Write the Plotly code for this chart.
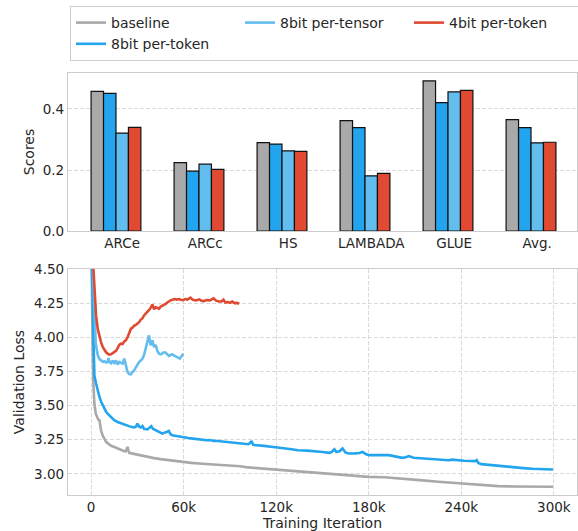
import plotly.graph_objects as go

# ---------------- data ----------------
categories = ["ARCe", "ARCc", "HS", "LAMBADA", "GLUE", "Avg."]
series_names = ["baseline", "8bit per-token", "8bit per-tensor", "4bit per-token"]
scores_baseline = [0.458, 0.224, 0.290, 0.362, 0.492, 0.365]
scores_8bit_token = [0.451, 0.196, 0.285, 0.339, 0.421, 0.339]
scores_8bit_tensor = [0.321, 0.219, 0.263, 0.181, 0.456, 0.289]
scores_4bit_token = [0.340, 0.202, 0.261, 0.189, 0.461, 0.291]

# validation loss curves: iteration (thousands), loss
baseline_iter = [0.3, 0.6, 1.0, 1.5, 2.1, 3.0, 3.9, 4.6, 5.4, 5.9, 6.4, 7.5, 8.6, 9.7, 11.8, 13.0,
                 15.0, 17.2, 19.3, 21.5, 22.5, 23.6, 24.2, 24.7, 27, 30, 33, 36.5, 40, 45, 50, 58,
                 65, 72, 79.4, 86, 92, 96.6, 102, 110, 120, 130, 140, 150, 160, 170, 180, 190,
                 199.6, 206, 215, 225, 238, 250, 264, 275, 285, 299.4]
baseline_loss = [4.6, 4.2, 3.9, 3.65, 3.515, 3.44, 3.405, 3.397, 3.393, 3.36, 3.319, 3.28, 3.255,
                 3.234, 3.215, 3.205, 3.197, 3.185, 3.175, 3.166, 3.165, 3.197, 3.17, 3.154, 3.148,
                 3.14, 3.132, 3.124, 3.117, 3.108, 3.1, 3.088, 3.08, 3.074, 3.069, 3.063, 3.058,
                 3.056, 3.047, 3.04, 3.032, 3.023, 3.014, 3.005, 2.995, 2.985, 2.978, 2.975, 2.968,
                 2.959, 2.952, 2.942, 2.93, 2.92, 2.91, 2.907, 2.905, 2.905]

token8_iter = [0.3, 0.8, 1.2, 1.7, 2.1, 3.2, 4.3, 5.4, 6.4, 7.5, 8.6, 9.7, 10.7, 12.9, 15.0, 17.2,
               19.3, 21.5, 23.6, 25.8, 27.9, 29.0, 30.0, 31.1, 32.2, 33.3, 34.3, 35.4, 36.5, 37.6,
               39.0, 40.0, 41.8, 43.0, 44.0, 45.1, 46.2, 47.2, 48.3, 49.4, 50.4, 51.5, 52.6, 55.0,
               58.0, 60.0, 63, 66, 68.7, 72, 75, 77, 79.4, 82, 85, 88, 90, 93, 96.6, 99, 101.9,
               103, 104, 105, 108, 112, 118, 122, 126, 130, 134, 140, 146, 150, 154.5, 156, 157.7,
               159, 161, 163, 165, 167, 171, 174, 176, 178, 180, 185, 190, 193, 197, 201.7, 204,
               206, 209, 213, 216.8, 222, 226, 229, 231.8, 234, 238, 242, 246, 249, 250, 251, 253,
               258, 264, 270, 274.7, 280, 286, 292, 299.4]
token8_loss = [4.6, 4.3, 4.0, 3.78, 3.72, 3.661, 3.6, 3.563, 3.53, 3.502, 3.475, 3.455, 3.441,
               3.415, 3.393, 3.38, 3.37, 3.361, 3.352, 3.344, 3.34, 3.345, 3.368, 3.345, 3.339,
               3.35, 3.33, 3.328, 3.325, 3.335, 3.349, 3.33, 3.319, 3.315, 3.31, 3.3, 3.295, 3.3,
               3.302, 3.308, 3.314, 3.29, 3.283, 3.277, 3.27, 3.268, 3.262, 3.258, 3.254, 3.25,
               3.246, 3.248, 3.241, 3.24, 3.236, 3.235, 3.234, 3.228, 3.22, 3.218, 3.217, 3.225,
               3.241, 3.212, 3.21, 3.205, 3.197, 3.194, 3.186, 3.18, 3.173, 3.17, 3.166, 3.16,
               3.154, 3.16, 3.18, 3.16, 3.165, 3.186, 3.155, 3.149, 3.15, 3.152, 3.161, 3.145,
               3.137, 3.14, 3.138, 3.137, 3.128, 3.117, 3.122, 3.13, 3.118, 3.115, 3.112, 3.108,
               3.105, 3.1, 3.1, 3.104, 3.098, 3.096, 3.094, 3.093, 3.1, 3.08, 3.071, 3.065, 3.058,
               3.051, 3.047, 3.042, 3.037, 3.034, 3.032]

tensor8_iter = [0.8, 1.5, 2.1, 3.0, 4.3, 5.4, 6.4, 7.5, 8.6, 9.7, 10.7, 11.2, 11.8, 12.9, 14.0,
                15.0, 16.1, 17.2, 18.2, 19.3, 20.4, 21.5, 22.5, 23.6, 24.7, 25.8, 26.8, 27.9,
                29.0, 30.0, 31.1, 32.2, 33.3, 34.3, 35.4, 36.5, 37.5, 38.6, 39.7, 40.8, 41.8,
                43.0, 44.0, 45.1, 46.2, 47.2, 48.3, 49.4, 50.4, 51.5, 52.6, 53.6, 54.7, 55.8,
                56.8, 57.5, 58.5, 59.7]
tensor8_loss = [4.6, 4.35, 4.1, 3.95, 3.87, 3.84, 3.831, 3.82, 3.825, 3.815, 3.819, 3.848, 3.82,
                3.81, 3.83, 3.807, 3.83, 3.8, 3.82, 3.81, 3.807, 3.844, 3.79, 3.746, 3.73, 3.728,
                3.745, 3.758, 3.78, 3.8, 3.819, 3.83, 3.844, 3.87, 3.928, 3.96, 4.014, 3.941,
                3.977, 3.928, 3.945, 3.9, 3.88, 3.875, 3.885, 3.89, 3.887, 3.875, 3.863, 3.87,
                3.875, 3.868, 3.86, 3.855, 3.85, 3.844, 3.86, 3.88]

token4_iter = [1.0, 1.7, 2.3, 3.2, 4.3, 5.4, 6.4, 7.5, 8.6, 9.7, 10.7, 11.8, 12.9, 14.0, 15.0,
               16.1, 17.2, 18.2, 19.3, 20.4, 21.5, 22.5, 23.6, 24.7, 25.8, 26.8, 27.9, 29.0, 30.0,
               31.1, 32.2, 33.3, 34.3, 35.4, 36.5, 37.6, 38.6, 39.7, 40.8, 41.8, 43.0, 44.0, 45.1,
               46.2, 47.2, 48.3, 49.4, 50.4, 51.5, 52.6, 54.0, 55.5, 57.0, 58.0, 59.5, 61, 62.5,
               64.4, 66, 68, 70, 71.5, 73, 75, 77, 79.4, 81, 83, 84.5, 85.8, 87, 88.5, 90, 91.5,
               93, 94.5, 96]
token4_loss = [4.6, 4.45, 4.3, 4.16, 4.06, 4.0, 3.965, 3.93, 3.905, 3.89, 3.88, 3.873, 3.875,
               3.882, 3.887, 3.9, 3.92, 3.945, 3.953, 3.95, 3.97, 3.977, 4.0, 4.03, 4.063, 4.07,
               4.085, 4.09, 4.1, 4.111, 4.13, 4.14, 4.16, 4.172, 4.19, 4.2, 4.215, 4.24, 4.205,
               4.22, 4.215, 4.209, 4.225, 4.23, 4.24, 4.245, 4.255, 4.265, 4.27, 4.275, 4.28,
               4.276, 4.28, 4.275, 4.272, 4.28, 4.276, 4.29, 4.274, 4.27, 4.278, 4.268, 4.265,
               4.272, 4.27, 4.285, 4.268, 4.262, 4.262, 4.275, 4.255, 4.258, 4.253, 4.262, 4.25,
               4.252, 4.245]

loss_xticks = [0, 60, 120, 180, 240, 300]
loss_xtick_text = ["0", "60k", "120k", "180k", "240k", "300k"]
loss_yticks = [3.0, 3.25, 3.5, 3.75, 4.0, 4.25, 4.5]
score_yticks = [0.0, 0.2, 0.4]

# ---------------- styling ----------------
colors = ["#a9a9a9", "#22a5ee", "#63bdee", "#e04a33"]
legend_rank = [1, 4, 2, 3]
TEXT = "#262626"
SPINE = "#cccccc"
GRID = "#d9d9d9"
DASH = "4px,2px"
FONT = "DejaVu Sans"

fig = go.Figure()

score_series = [scores_baseline, scores_8bit_token, scores_8bit_tensor, scores_4bit_token]
cat_idx = list(range(len(categories)))
for name, vals, col in zip(series_names, score_series, colors):
    fig.add_trace(go.Bar(
        x=cat_idx, y=vals, name=name, showlegend=False,
        marker=dict(color=col, line=dict(color="#111111", width=1.2)),
        xaxis="x", yaxis="y",
    ))

loss_series = [(baseline_iter, baseline_loss), (token8_iter, token8_loss),
               (tensor8_iter, tensor8_loss), (token4_iter, token4_loss)]
for name, (xs, ys), col, rk in zip(series_names, loss_series, colors, legend_rank):
    fig.add_trace(go.Scatter(
        x=xs, y=ys, name=name, mode="lines", legendrank=rk,
        line=dict(color=col, width=2.6),
        xaxis="x2", yaxis="y2",
    ))

W, H = 578, 531
ml, mr, mt, mb = 68, 1, 73, 36
ph = H - mt - mb

def fy(px):
    return (H - mb - px) / ph

axis_common = dict(showline=True, linecolor=SPINE, linewidth=1.25, mirror=True,
                   zeroline=False, ticks="", automargin=False,
                   tickfont=dict(family=FONT, size=13.5, color=TEXT))

fig.update_layout(
    template="none",
    width=W, height=H,
    margin=dict(l=ml, r=mr, t=mt, b=mb, autoexpand=False),
    paper_bgcolor="white", plot_bgcolor="white",
    font=dict(family=FONT, color=TEXT),
    barmode="group", bargap=0.4, bargroupgap=0.0,
    xaxis=dict(domain=[0, 1], anchor="y", range=[-0.578, 5.554],
               tickmode="array", tickvals=[i + 0.075 for i in cat_idx], ticktext=categories,
               showgrid=False, **axis_common),
    yaxis=dict(domain=[fy(231), 1], anchor="x", range=[0, 0.518],
               tickmode="array", tickvals=score_yticks,
               ticktext=["%.1f" % v for v in score_yticks],
               showgrid=True, gridcolor=GRID, griddash=DASH, gridwidth=1,
               title=dict(text="Scores", font=dict(family=FONT, size=14, color=TEXT), standoff=4),
               **axis_common),
    xaxis2=dict(domain=[0, 1], anchor="y2", range=[-15, 315],
                tickmode="array", tickvals=loss_xticks, ticktext=loss_xtick_text,
                showgrid=True, gridcolor=GRID, griddash=DASH, gridwidth=1,
                title=dict(text="Training Iteration", font=dict(family=FONT, size=14, color=TEXT),
                           standoff=2),
                **axis_common),
    yaxis2=dict(domain=[0, fy(269)], anchor="x2", range=[2.845, 4.5],
                tickmode="array", tickvals=loss_yticks,
                ticktext=["%.2f" % v for v in loss_yticks],
                showgrid=True, gridcolor=GRID, griddash=DASH, gridwidth=1,
                title=dict(text="Validation Loss", font=dict(family=FONT, size=14, color=TEXT),
                           standoff=6),
                **axis_common),
    legend=dict(orientation="h", x=(70 - ml) / (W - ml - mr), xanchor="left",
                y=1 + (mt - 6) / ph, yanchor="top",
                entrywidth=124, entrywidthmode="pixels",
                bordercolor=SPINE, borderwidth=1, bgcolor="white",
                font=dict(family=FONT, size=14, color=TEXT), traceorder="normal"),
)

fig.write_html(
    "out.html",
    config={"displayModeBar": False},
    post_script="document.body.style.margin='0';document.body.style.overflow='hidden';"
                "document.documentElement.style.overflow='hidden';",
)
